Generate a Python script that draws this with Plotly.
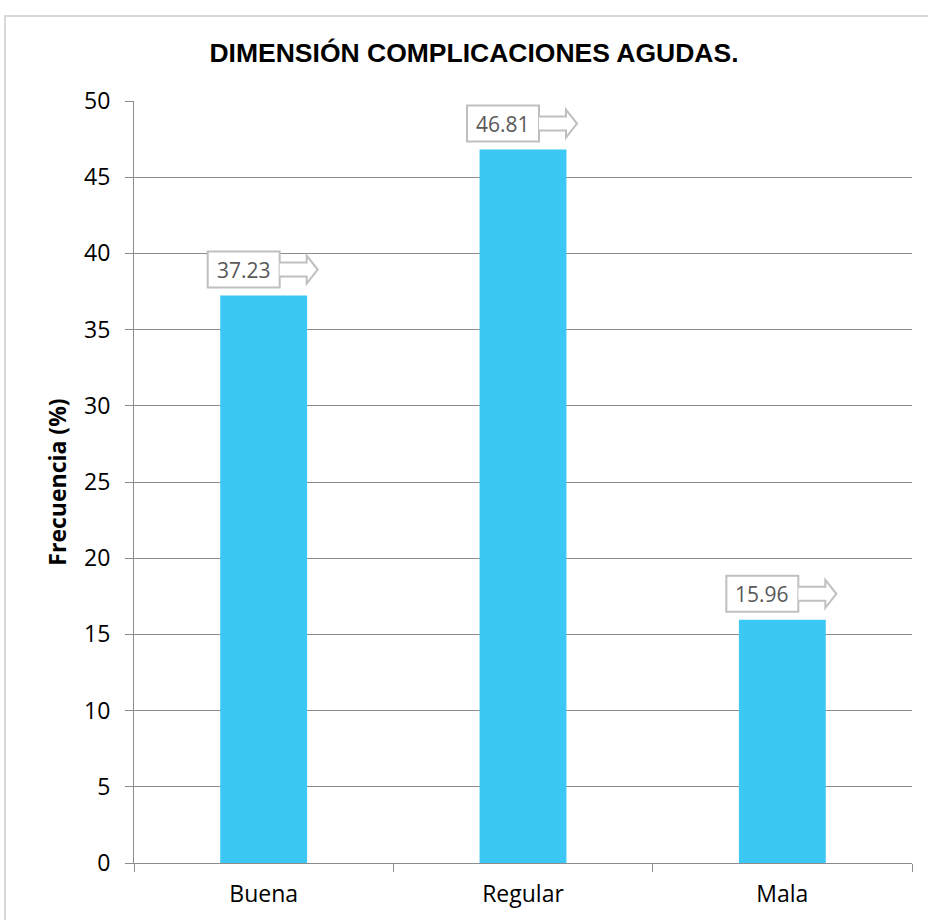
import plotly.graph_objects as go

# Data
categories = ["Buena", "Regular", "Mala"]
values = [37.23, 46.81, 15.96]
y_ticks = [0, 5, 10, 15, 20, 25, 30, 35, 40, 45, 50]

BAR_COLOR = "#3BC8F5"
GRID = "#8C8C8C"
LABEL_EDGE = "#BFBFBF"
FONT = "Open Sans"

fig = go.Figure(
    go.Bar(
        x=categories,
        y=values,
        marker=dict(color=BAR_COLOR, line=dict(width=0)),
        width=0.335,
        hoverinfo="skip",
    )
)

# Callout labels: a box with an outlined arrow, anchored at each bar top
shapes = []
annotations = []
for cat, val in zip(categories, values):
    common = dict(
        xref="x", yref="y",
        xsizemode="pixel", ysizemode="pixel",
        xanchor=cat, yanchor=val,
        line=dict(color=LABEL_EDGE, width=2),
        layer="above",
    )
    shapes.append(dict(type="rect", x0=-56, x1=16, y0=8, y1=44,
                       fillcolor="white", **common))
    shapes.append(dict(type="path",
                       path="M16,19 L43,19 L43,12 L54,26 L43,40 L43,33 L16,33",
                       fillcolor="white", **common))
    annotations.append(dict(
        x=cat, y=val, xref="x", yref="y",
        text=f"{val:.2f}", showarrow=False,
        xanchor="center", yanchor="middle",
        xshift=-20, yshift=26,
        font=dict(family=FONT, size=21, color="#595959"),
    ))

# Outer chart frame
shapes.append(dict(type="rect", xref="paper", yref="paper",
                   x0=(5 - 134) / 778, x1=(940 - 134) / 778,
                   y0=-80 / 762, y1=(920 - 16 - 57) / 762,
                   line=dict(color="#D9D9D9", width=2), layer="below"))

fig.update_layout(
    width=928, height=920,
    margin=dict(l=134, r=16, t=101, b=57),
    paper_bgcolor="white", plot_bgcolor="white",
    showlegend=False,
    title=dict(
        text="<b>DIMENSIÓN COMPLICACIONES AGUDAS.</b>",
        x=474 / 928, xanchor="center", xref="container",
        y=1 - 53 / 920, yanchor="middle", yref="container",
        font=dict(family="Liberation Sans, Arial, sans-serif", size=26.5, color="black"),
    ),
    shapes=shapes,
    annotations=annotations,
    xaxis=dict(
        type="category",
        tickson="boundaries",
        ticks="outside", ticklen=8, tickcolor=GRID, tickwidth=1,
        showline=True, linecolor=GRID, linewidth=1,
        showgrid=False, zeroline=False,
        tickfont=dict(family=FONT, size=23, color="black"),
        ticklabelstandoff=10,
        automargin=False,
    ),
    yaxis=dict(
        range=[0, 50],
        tickvals=y_ticks,
        ticks="outside", ticklen=8, tickcolor=GRID, tickwidth=1,
        showline=True, linecolor=GRID, linewidth=1,
        showgrid=True, gridcolor=GRID, gridwidth=1,
        zeroline=False,
        tickfont=dict(family=FONT, size=23, color="black"),
        ticklabelstandoff=10,
        automargin=False,
        title=dict(text="<b>Frecuencia (%)</b>", standoff=11,
                   font=dict(family=FONT, size=23, color="black")),
    ),
)

fig.write_html("out.html")
